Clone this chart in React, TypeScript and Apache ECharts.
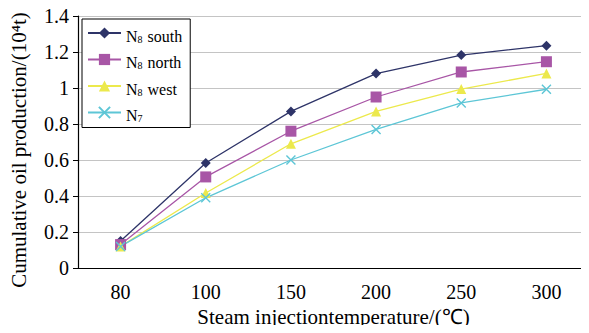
import React, { useEffect, useRef } from "react";
import * as echarts from "echarts";

const categories = ["80", "100", "150", "200", "250", "300"];
const south = [0.15, 0.583, 0.87, 1.08, 1.183, 1.235];
const north = [0.13, 0.506, 0.76, 0.95, 1.089, 1.146];
const west = [0.12, 0.417, 0.69, 0.87, 0.994, 1.081];
const n7 = [0.12, 0.39, 0.6, 0.77, 0.917, 0.993];
const seriesNames = ["N8 south", "N8 north", "N8 west", "N7"];

const FONT = "Liberation Serif";

export default function App() {
  const ref = useRef<HTMLDivElement>(null);
  useEffect(() => {
    if (!ref.current) return;
    const chart = echarts.init(ref.current, undefined, { renderer: "svg" });
    const mk = (name: string, data: number[], color: string, symbol: string, size: number, extra: any = {}) => ({
      name,
      type: "line",
      data,
      symbol,
      symbolSize: size,
      lineStyle: { color, width: 1.3 },
      itemStyle: { color, borderColor: color, borderWidth: 0, ...extra },
      emphasis: { disabled: true },
    });
    chart.setOption({
      animation: false,
      backgroundColor: "#fff",
      textStyle: { fontFamily: FONT },
      grid: { left: 74, top: 16, width: 520, height: 252, containLabel: false },
      legend: {
        orient: "vertical",
        left: 82,
        top: 19,
        padding: [3, 8, 4, 5],
        itemGap: 4.5,
        itemWidth: 33,
        itemHeight: 14,
        borderColor: "#000",
        borderWidth: 1,
        backgroundColor: "#fff",
        data: seriesNames,
        formatter: (name: string) => {
          const m = name.match(/^N(\d)(.*)$/);
          if (!m) return name;
          return "{n|N}{sub|" + m[1] + "}{n|" + m[2] + "}";
        },
        textStyle: {
          fontFamily: FONT,
          fontSize: 16,
          color: "#000",
          rich: {
            n: { fontFamily: FONT, fontSize: 16, color: "#000", lineHeight: 22, verticalAlign: "bottom" },
            sub: { fontFamily: FONT, fontSize: 10, color: "#000", lineHeight: 12, verticalAlign: "bottom", padding: [12, 1, 0, 0] },
          },
        },
      },
      xAxis: {
        type: "category",
        data: categories,
        boundaryGap: true,
        name: "Steam injectiontemperature/(℃)",
        nameLocation: "middle",
        nameGap: 34,
        nameTextStyle: { fontFamily: FONT, fontSize: 21, color: "#000" },
        axisLine: { lineStyle: { color: "#000", width: 1.2 } },
        axisTick: { inside: true, length: 5, lineStyle: { color: "#000" } },
        axisLabel: { margin: 14, fontFamily: FONT, fontSize: 20, color: "#000" },
        splitLine: { show: false },
      },
      yAxis: {
        type: "value",
        min: 0,
        max: 1.4,
        interval: 0.2,
        name: "Cumulative oil production/(10⁴t)",
        nameLocation: "middle",
        nameGap: 49,
        nameTextStyle: { fontFamily: FONT, fontSize: 21, color: "#000", padding: [0, 16, 0, 0] },
        axisLine: { show: true, lineStyle: { color: "#000", width: 1.2 } },
        axisTick: { show: true, inside: false, length: 5, lineStyle: { color: "#000" } },
        axisLabel: { margin: 9, fontFamily: FONT, fontSize: 20, color: "#000" },
        splitLine: { show: true, lineStyle: { color: "#c4c4c4", width: 1 } },
      },
      series: [
        mk("N8 south", south, "#2e3468", "diamond", 10),
        mk("N8 north", north, "#a856a6", "rect", 11),
        mk("N8 west", west, "#ece94c", "triangle", 10),
        mk("N7", n7, "#5dc6d6", "path://M0,0L10,10M10,0L0,10", 9, { borderWidth: 1.4, color: "#5dc6d6" }),
      ],
    });
    return () => chart.dispose();
  }, []);
  return <div ref={ref} style={{ width: 589, height: 333, margin: -8 }} />;
}
